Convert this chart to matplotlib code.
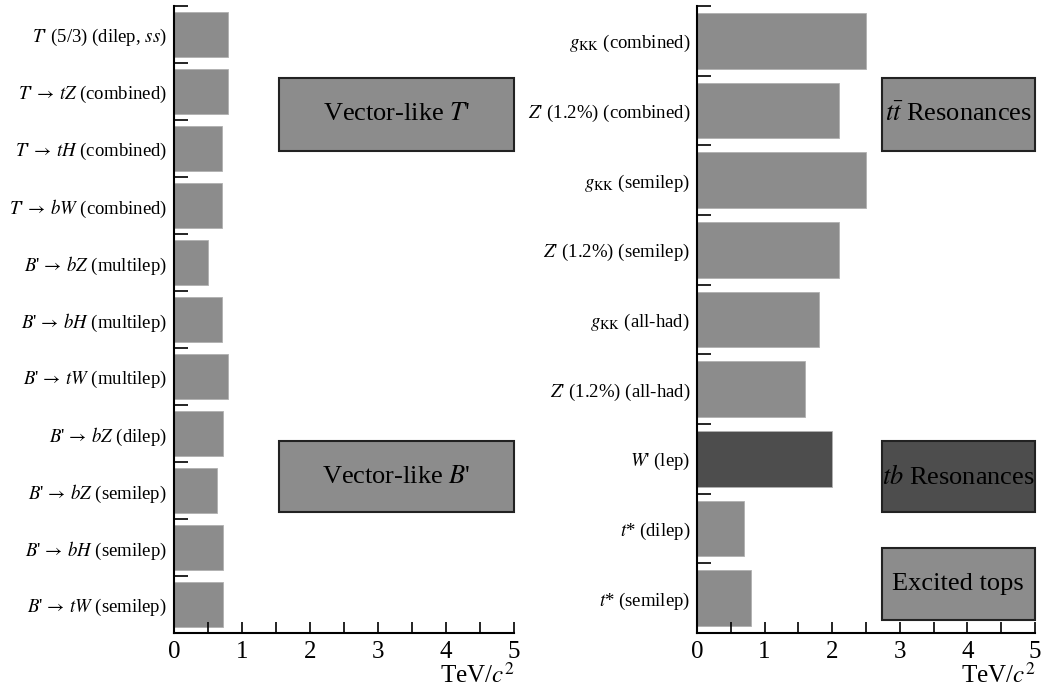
from matplotlib import pyplot as plt
from matplotlib.patches import Rectangle
import numpy as np

plt.rcParams['font.family'] = ['Liberation Serif', 'DejaVu Serif']
plt.rcParams['mathtext.fontset'] = 'stix'

# Vector-like quark searches (lower mass limits, TeV/c^2)
vlq_labels = [
    "$T$' (5/3) (dilep, $ss$)",
    "$T$'$\\,\\rightarrow\\,tZ$ (combined)",
    "$T$'$\\,\\rightarrow\\,tH$ (combined)",
    "$T$'$\\,\\rightarrow\\,bW$ (combined)",
    "$B$'$\\,\\rightarrow\\,bZ$ (multilep)",
    "$B$'$\\,\\rightarrow\\,bH$ (multilep)",
    "$B$'$\\,\\rightarrow\\,tW$ (multilep)",
    "$B$'$\\,\\rightarrow\\,bZ$ (dilep)",
    "$B$'$\\,\\rightarrow\\,bZ$ (semilep)",
    "$B$'$\\,\\rightarrow\\,bH$ (semilep)",
    "$B$'$\\,\\rightarrow\\,tW$ (semilep)",
]
vlq_limits = [0.8, 0.8, 0.7, 0.7, 0.5, 0.7, 0.8, 0.72, 0.63, 0.72, 0.72]

# Resonance and excited top searches
res_labels = [
    "$g_{\\mathrm{KK}}$ (combined)",
    "$Z$' (1.2%) (combined)",
    "$g_{\\mathrm{KK}}$ (semilep)",
    "$Z$' (1.2%) (semilep)",
    "$g_{\\mathrm{KK}}$ (all-had)",
    "$Z$' (1.2%) (all-had)",
    "$W$' (lep)",
    "$t$* (dilep)",
    "$t$* (semilep)",
]
res_limits = [2.5, 2.1, 2.5, 2.1, 1.8, 1.6, 2.0, 0.7, 0.8]
res_dark = [False, False, False, False, False, False, True, False, False]

GREY = '#8c8c8c'
DARK = '#4d4d4d'


def setupAxis(ax, n):
    ax.set_xlim(0, 5)
    ax.set_ylim(n - 0.5, -0.5)
    for s in ['top', 'right']:
        ax.spines[s].set_visible(False)
    for s in ['left', 'bottom']:
        ax.spines[s].set_linewidth(1.5)
    ax.set_xticks(np.arange(0, 5.01, 0.5))
    ax.set_xticklabels([f'{v:g}' if v == int(v) else '' for v in np.arange(0, 5.01, 0.5)])
    ax.tick_params(axis='x', direction='in', length=8, width=1.2, labelsize=18, pad=6)
    # ticks between categories, labels centred on the bars
    ax.set_yticks(np.arange(-0.5, n, 1.0))
    ax.set_yticklabels([])
    ax.set_yticks(np.arange(n), minor=True)
    ax.tick_params(axis='y', which='major', direction='in', length=10, width=1.2)
    ax.tick_params(axis='y', which='minor', length=0, labelsize=13.5, pad=5)
    ax.set_xlabel('TeV/$c^2$', fontsize=18, loc='right', labelpad=0)


def addBox(ax, x0, y0, y1, text, color, size):
    rect = Rectangle((x0, y0), 1.0 - x0, y1 - y0, transform=ax.transAxes,
                     facecolor=color, edgecolor='#222222', linewidth=1.5,
                     clip_on=False, zorder=3)
    ax.add_patch(rect)
    ax.text((x0 + 1.0) / 2, (y0 + y1) / 2, text, transform=ax.transAxes,
            ha='center', va='center', fontsize=size, zorder=4)


fig = plt.figure(figsize=(10.47, 6.98), dpi=100)
ax1 = fig.add_axes([0.1662, 0.0931, 0.3247, 0.8983])
ax2 = fig.add_axes([0.6657, 0.0931, 0.3228, 0.8983])

# Left panel
setupAxis(ax1, len(vlq_labels))
ax1.barh(np.arange(len(vlq_labels)), vlq_limits, height=0.8, color=GREY,
         edgecolor='#b0b0b0', linewidth=0.6)
ax1.set_yticklabels(vlq_labels, minor=True)
addBox(ax1, 0.31, 0.769, 0.885, "Vector-like $T$'", GREY, 19)
addBox(ax1, 0.31, 0.1925, 0.3067, "Vector-like $B$'", GREY, 19)

# Right panel
setupAxis(ax2, len(res_labels))
colors = [DARK if d else GREY for d in res_dark]
ax2.barh(np.arange(len(res_labels)), res_limits, height=0.8, color=colors,
         edgecolor='#b0b0b0', linewidth=0.6)
ax2.set_yticklabels(res_labels, minor=True)
addBox(ax2, 0.546, 0.769, 0.885, "$t\\bar{t}$ Resonances", GREY, 19)
addBox(ax2, 0.546, 0.1925, 0.3067, "$tb$ Resonances", DARK, 19)
addBox(ax2, 0.546, 0.0207, 0.1356, "Excited tops", GREY, 19)

fig.savefig('out.png', dpi=100)
